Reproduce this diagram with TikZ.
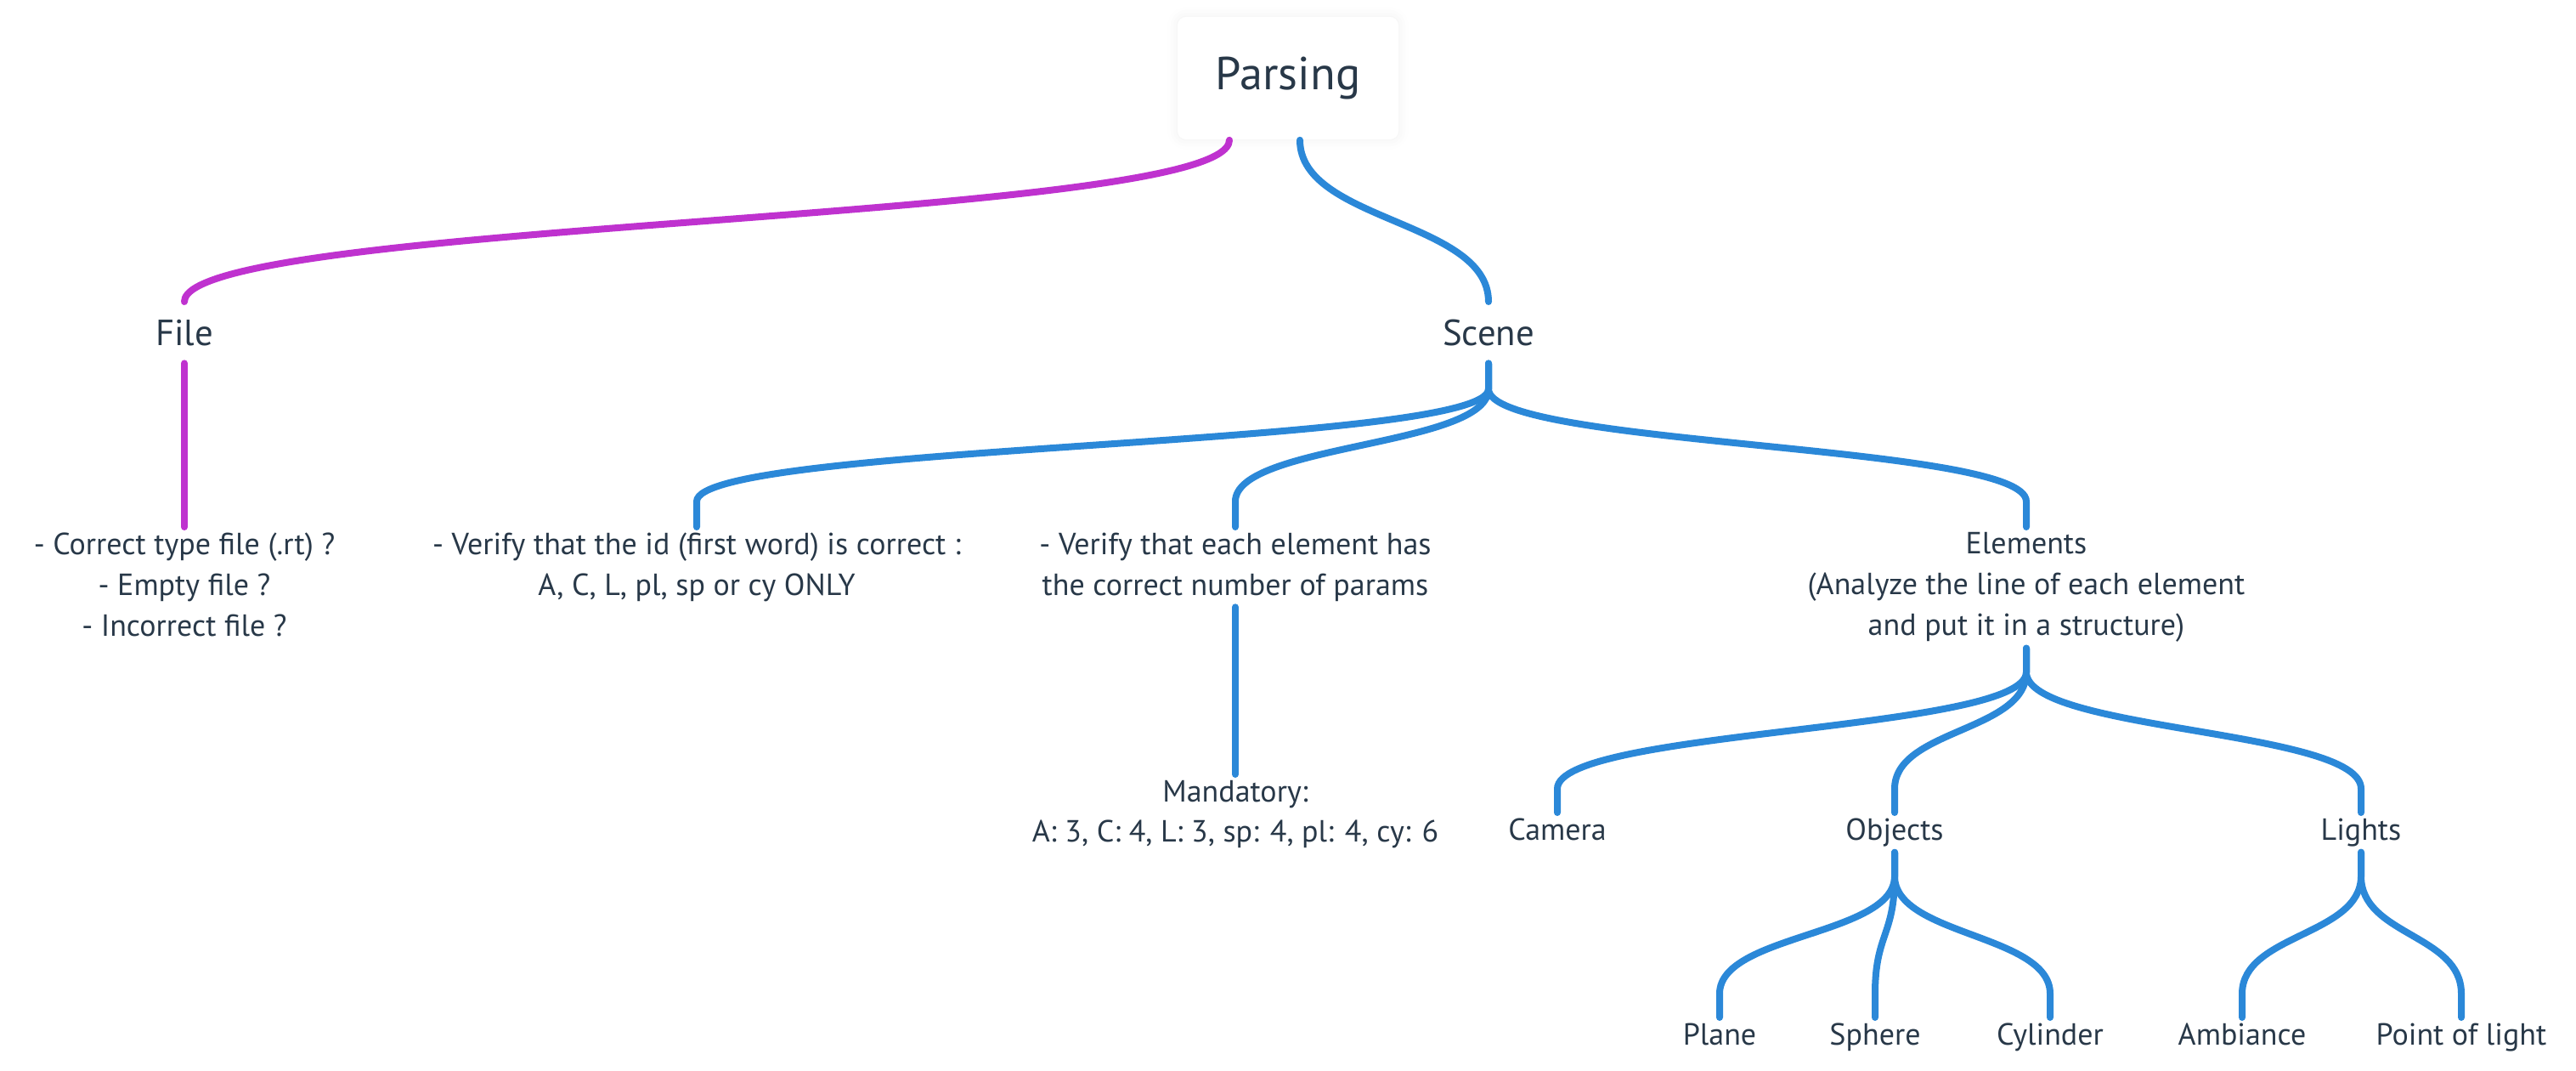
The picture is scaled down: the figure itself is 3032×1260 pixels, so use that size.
\documentclass[tikz,border=0pt]{standalone}
\usepackage{fontspec}
\setmainfont{PT Sans}
\usetikzlibrary{calc,shadows.blur}

\definecolor{mapblue}{HTML}{2B88D8}
\definecolor{mappurple}{HTML}{BF32CF}
\definecolor{maptext}{HTML}{283848}

\tikzset{
  every node/.style={text=maptext, align=center},
  rootbox/.style={fill=white, rounded corners=2.5pt, minimum width=65pt, minimum height=36pt,
    blur shadow={shadow xshift=0pt, shadow yshift=0pt, shadow blur radius=3pt, shadow opacity=6},
    font=\fontsize{13.6}{16}\selectfont},
  topic/.style={font=\fontsize{10.7}{13}\selectfont, inner ysep=5pt, anchor=north},
  leaf/.style={font=\fontsize{9}{12}\selectfont, inner ysep=1.5pt, anchor=north},
  blueline/.style={draw=mapblue, line width=2pt, line cap=round},
  purpleline/.style={draw=mappurple, line width=2pt, line cap=round},
  branch/.style 2 args={to path={-- ++(0,#1) .. controls +(0,#2) and ($(\tikztotarget)+(0,-#1-#2)$) .. ($(\tikztotarget)+(0,-#1)$) -- (\tikztotarget)}},
}

\begin{document}
\begin{tikzpicture}[x=0.25pt, y=-0.25pt]
\useasboundingbox (0,0) rectangle (3032,1260);
% root
\node[rootbox] (parsing) at (1516,92) {Parsing};
% first level
\node[topic] (file) at (217,355) {File};
\node[topic] (scene) at (1752,355) {Scene};
% checks
\node[leaf] (filecheck) at (217,620) {- Correct type file (.rt) ?\\- Empty file ?\\- Incorrect file ?};
\node[leaf] (idcheck) at (820,620) {- Verify that the id (first word) is correct :\\A, C, L, pl, sp or cy ONLY};
\node[leaf] (paramcheck) at (1454,620) {- Verify that each element has\\the correct number of params};
\node[leaf] (mandatory) at (1454,911) {Mandatory:\\A: 3, C: 4, L: 3, sp: 4, pl: 4, cy: 6};
\node[leaf] (elements) at (2385,620) {Elements\\(Analyze the line of each element\\and put it in a structure)};
% element kinds
\node[leaf] (camera) at (1833,956) {Camera};
\node[leaf] (objects) at (2230,956) {Objects};
\node[leaf] (lights) at (2779,956) {Lights};
\node[leaf] (plane) at (2024,1197) {Plane};
\node[leaf] (sphere) at (2207,1197) {Sphere};
\node[leaf] (cylinder) at (2413,1197) {Cylinder};
\node[leaf] (ambiance) at (2639,1197) {Ambiance};
\node[leaf] (pointlight) at (2897,1197) {Point of light};

% connectors
\draw[purpleline] ([xshift=-17.25pt]parsing.south) to[branch={0}{96}] (file.north);
\draw[blueline] ([xshift=3.5pt]parsing.south) to[branch={0}{96}] (scene.north);
\draw[purpleline] (file.south) -- (filecheck.north);
\foreach \n in {idcheck,paramcheck,elements}
  \draw[blueline] (scene.south) to[branch={30}{68}] (\n.north);
\draw[blueline] (paramcheck.south) -- (mandatory.north);
\foreach \n in {camera,objects,lights}
  \draw[blueline] (elements.south) to[branch={28}{70}] (\n.north);
\foreach \n in {plane,sphere,cylinder}
  \draw[blueline] (objects.south) to[branch={28}{70}] (\n.north);
\foreach \n in {ambiance,pointlight}
  \draw[blueline] (lights.south) to[branch={28}{70}] (\n.north);
\end{tikzpicture}
\end{document}
